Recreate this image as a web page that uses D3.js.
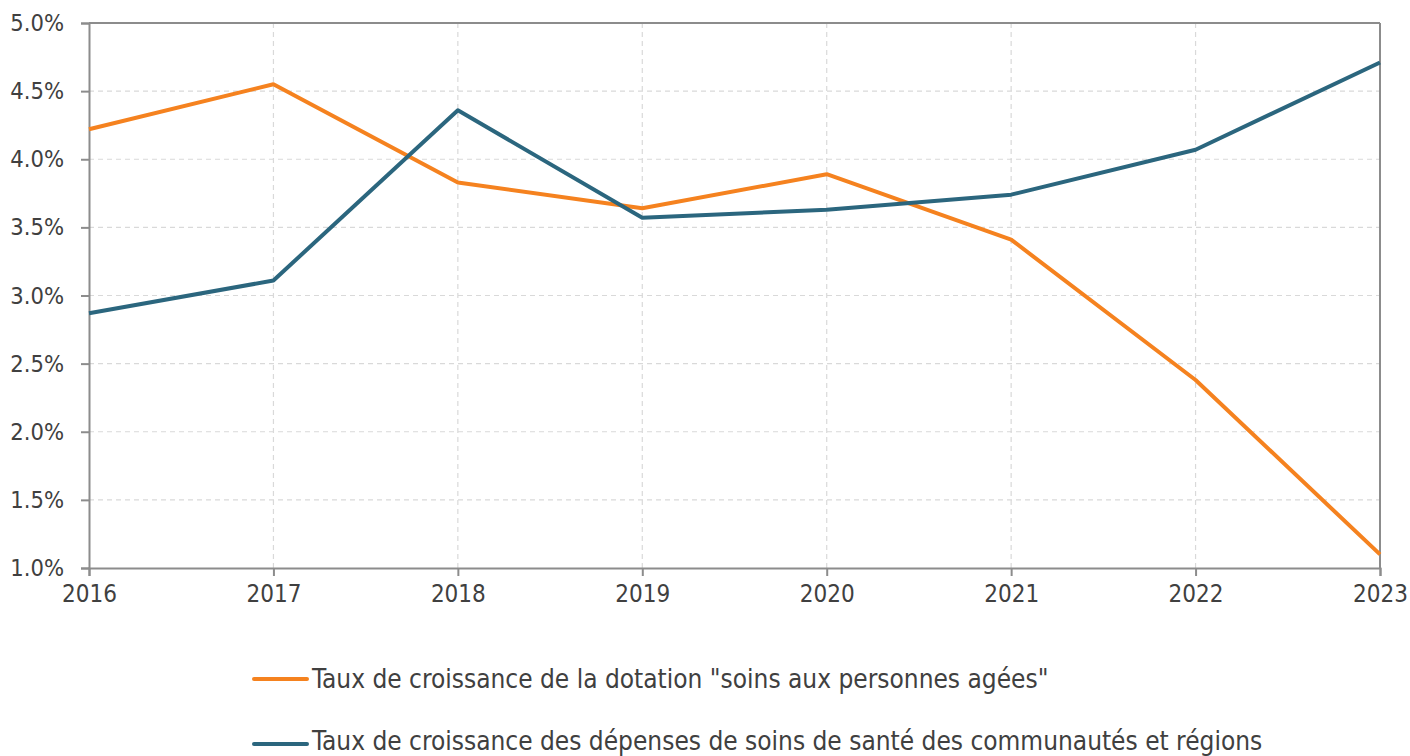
<!DOCTYPE html>
<html><head><meta charset="utf-8">
<script src="https://cdn.jsdelivr.net/npm/d3@7"></script>
<style>body{margin:0;background:#fff;} text{font-family:"DejaVu Sans Condensed","DejaVu Sans",sans-serif;}</style>
</head><body>
<svg id="c" width="1410" height="756"></svg>
<script>
const years = [2016, 2017, 2018, 2019, 2020, 2021, 2022, 2023];
const dotationSoins = [4.22, 4.55, 3.83, 3.64, 3.89, 3.41, 2.38, 1.10];
const depensesSante = [2.87, 3.11, 4.36, 3.57, 3.63, 3.74, 4.07, 4.71];
const yTicks = [1.0, 1.5, 2.0, 2.5, 3.0, 3.5, 4.0, 4.5, 5.0];
const seriesNames = ['Taux de croissance de la dotation "soins aux personnes agées"',
  'Taux de croissance des dépenses de soins de santé des communautés et régions'];
const colors = ["#F5821F", "#2B667E"];

const FONT = '"DejaVu Sans Condensed","DejaVu Sans",sans-serif';
const svg = d3.select("#c");
const L = 89, R = 1380, T = 23, B = 568;
const x = d3.scaleLinear().domain([2016, 2023]).range([L, R]);
const y = d3.scaleLinear().domain([1, 5]).range([B, T]);
const axisCol = "#8c8c8c", textCol = "#404040";

// grid
const g = svg.append("g");
g.selectAll(".hg").data(yTicks.slice(1)).join("line")
  .attr("x1", L).attr("x2", R).attr("y1", d => y(d)).attr("y2", d => y(d))
  .attr("stroke", "#d9d9d9").attr("stroke-width", 1.2).attr("stroke-dasharray", "5,4");
g.selectAll(".vg").data(years.slice(1, -1)).join("line")
  .attr("x1", d => x(d)).attr("x2", d => x(d)).attr("y1", T).attr("y2", B)
  .attr("stroke", "#d9d9d9").attr("stroke-width", 1.2).attr("stroke-dasharray", "5,4");

// frame top/right
svg.append("line").attr("x1", L).attr("x2", R).attr("y1", T).attr("y2", T).attr("stroke", axisCol).attr("stroke-width", 2);
svg.append("line").attr("x1", R).attr("x2", R).attr("y1", T).attr("y2", B).attr("stroke", axisCol).attr("stroke-width", 2);

// axes
const ya = svg.append("g").attr("transform", `translate(${L},0)`)
  .call(d3.axisLeft(y).tickValues(yTicks).tickFormat(d => d.toFixed(1) + "%").tickSize(8).tickPadding(17));
const xa = svg.append("g").attr("transform", `translate(0,${B})`)
  .call(d3.axisBottom(x).tickValues(years).tickFormat(d3.format("d")).tickSize(8).tickPadding(9));
[ya, xa].forEach(a => {
  a.select(".domain").attr("stroke", axisCol).attr("stroke-width", 2);
  a.selectAll(".tick line").attr("stroke", axisCol).attr("stroke-width", 2);
  a.selectAll("text").attr("fill", textCol).style("font-size", "23.5px").style("font-family", FONT);
});
xa.selectAll("text").style("font-size", "24px").attr("dy", "0.72em");

// lines
const line = d3.line().x((d, i) => x(years[i])).y(d => y(d));
[dotationSoins, depensesSante].forEach((s, k) => {
  svg.append("path").datum(s).attr("d", line).attr("fill", "none")
    .attr("stroke", colors[k]).attr("stroke-width", 4).attr("stroke-linejoin", "round");
});

// legend
const ly = [679, 741];
seriesNames.forEach((n, k) => {
  svg.append("line").attr("x1", 254).attr("x2", 307).attr("y1", ly[k] + (k ? 3 : 0)).attr("y2", ly[k] + (k ? 3 : 0))
    .attr("stroke", colors[k]).attr("stroke-width", 4).attr("stroke-linecap", "round");
  svg.append("text").attr("x", 312).attr("y", ly[k]).attr("dy", "0.35em")
    .attr("fill", textCol).style("font-size", "26px").style("font-family", FONT).text(n);
});
</script>
</body></html>
